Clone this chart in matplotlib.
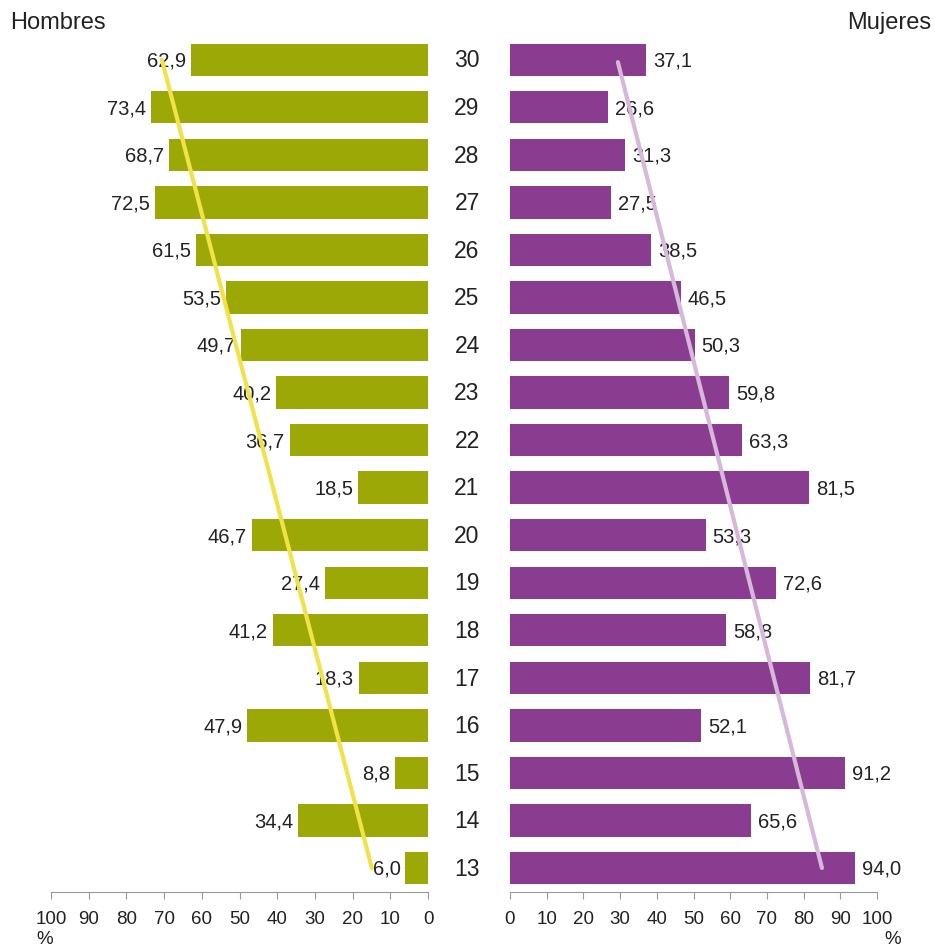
import numpy as np
import matplotlib.pyplot as plt

plt.rcParams['font.family'] = ['Liberation Sans', 'DejaVu Sans']

edades = [13, 14, 15, 16, 17, 18, 19, 20, 21, 22, 23, 24, 25, 26, 27, 28, 29, 30]
hombres = [6.0, 34.4, 8.8, 47.9, 18.3, 41.2, 27.4, 46.7, 18.5, 36.7, 40.2, 49.7, 53.5, 61.5, 72.5, 68.7, 73.4, 62.9]
mujeres = [94.0, 65.6, 91.2, 52.1, 81.7, 58.8, 72.6, 53.3, 81.5, 63.3, 59.8, 50.3, 46.5, 38.5, 27.5, 31.3, 26.6, 37.1]
# tendencia (extremos en edad 13 y 30)
tend_h = [14.9, 70.6]
tend_m = [85.0, 29.4]
ticks = [0, 10, 20, 30, 40, 50, 60, 70, 80, 90, 100]

verde = '#9ca806'
morado = '#8a3c91'
texto = '#222222'

fig = plt.figure(figsize=(9.35, 9.49), dpi=100)
bot = 1 - 892 / 949
alto = 856 / 949
axl = fig.add_axes([51 / 935, bot, 377 / 935, alto])
axr = fig.add_axes([510 / 935, bot, 367 / 935, alto])

y = np.arange(len(edades))

axl.barh(y, hombres, height=0.68, color=verde)
axr.barh(y, mujeres, height=0.68, color=morado)

for i, v in enumerate(hombres):
    axl.text(v + 1.3, i - 0.03, f'{v:.1f}'.replace('.', ','), ha='right', va='center',
             fontsize=14.5, color=texto)
for i, v in enumerate(mujeres):
    axr.text(v + 1.9, i - 0.03, f'{v:.1f}'.replace('.', ','), ha='left', va='center',
             fontsize=14.5, color=texto)

axl.plot(tend_h, [y[0], y[-1]], color='#efe24a', lw=3, solid_capstyle='round', zorder=5)
axr.plot(tend_m, [y[0], y[-1] - 0.05], color='#d5b8da', lw=3, solid_capstyle='round', zorder=5)

for ax in (axl, axr):
    ax.set_ylim(-0.505, 17.5)
    ax.set_xlim(0, 100)
    ax.set_xticks(ticks)
    ax.set_yticks([])
    for s in ('top', 'left', 'right'):
        ax.spines[s].set_visible(False)
    ax.spines['bottom'].set_color('#999999')
    ax.tick_params(axis='x', colors='#999999', length=5, pad=9, labelsize=13.5,
                   labelcolor=texto)
axl.invert_xaxis()

for i, e in enumerate(edades):
    fig.text(467 / 935, bot + alto * (i + 0.48) / 18.005, str(e), ha='center',
             va='center', fontsize=16.5, color=texto)

fig.text(10 / 935, 1 - 23 / 949, 'Hombres', ha='left', va='center', fontsize=17, color=texto)
fig.text(931 / 935, 1 - 23 / 949, 'Mujeres', ha='right', va='center', fontsize=17, color=texto)
fig.text(45 / 935, 1 - 939 / 949, '%', ha='center', va='center', fontsize=13.5, color=texto)
fig.text(893 / 935, 1 - 939 / 949, '%', ha='center', va='center', fontsize=13.5, color=texto)

fig.savefig('out.png', dpi=100)
